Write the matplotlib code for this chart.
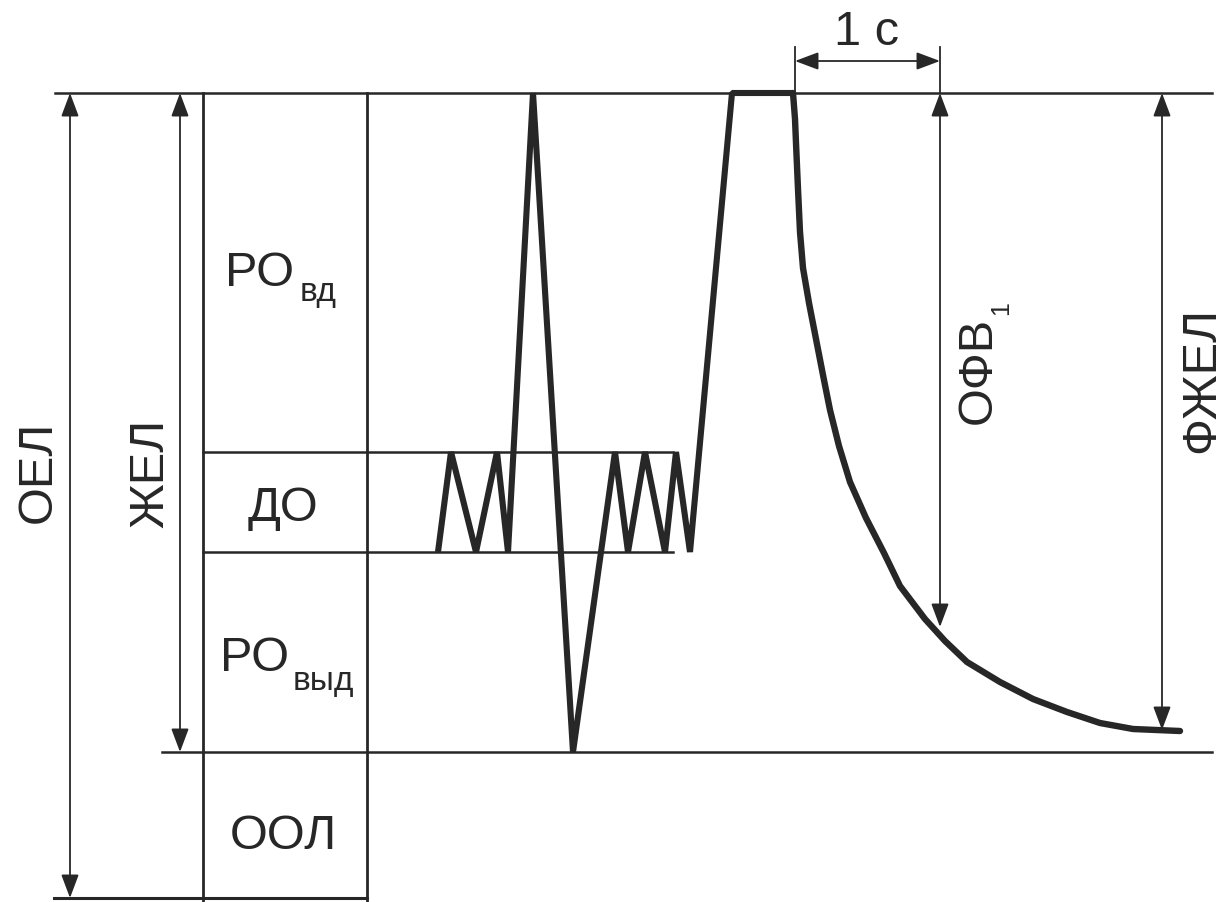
import numpy as np
import matplotlib
matplotlib.use("Agg")
from matplotlib import pyplot as plt

plt.rcParams['font.family'] = ['Liberation Sans', 'DejaVu Sans']

# levels of the spirogram (picture coordinates, y grows downwards)
y_top = 94        # TLC level
y_do_top = 453    # end of tidal inspiration
y_do_bot = 553    # end of tidal expiration
y_rv = 753        # end of maximal expiration
y_bottom = 899    # zero volume
y_tick = 48       # top of the 1 s markers
y_sec = 62        # 1 s arrow

x_oel = 70
x_zhel = 180
x_box = [203, 367]
x_t0 = 795        # start of forced expiration
x_t1 = 940        # 1 s later
x_fvc = 1162

# tidal breathing, deep breath, tidal breathing, full inspiration
trace_x = [438, 451, 476, 497, 508, 533, 573, 615, 628, 645, 665, 676, 690, 732, 793]
trace_y = [553, 453, 553, 453, 553, 94, 753, 453, 553, 453, 553, 453, 553, 94, 94]

# forced expiration curve
exp_x = [793, 795, 796, 798, 800, 803, 809, 816, 823, 830, 839, 850, 866, 884,
         900, 925, 945, 967, 1000, 1033, 1067, 1100, 1133, 1180]
exp_y = [94, 120, 144, 190, 233, 269, 304, 340, 376, 411, 447, 483, 519, 554,
         587, 620, 642, 663, 683, 700, 713, 724, 730, 732]
y_fev1 = 628
y_fvc = 731

ink = '#272727'
fig = plt.figure(figsize=(12.25, 9.03), dpi=100)
ax = fig.add_axes([0, 0, 1, 1])
ax.set_xlim(0, 1225)
ax.set_ylim(903, 0)
ax.axis('off')

# horizontal level lines
ax.plot([55, 1212], [y_top, y_top], color=ink, lw=1.8)
ax.plot([x_box[0], 673], [y_do_top, y_do_top], color=ink, lw=1.8)
ax.plot([x_box[0], 673], [y_do_bot, y_do_bot], color=ink, lw=1.8)
ax.plot([162, 1212], [y_rv, y_rv], color=ink, lw=1.8)
ax.plot([54, x_box[1]], [y_bottom, y_bottom], color=ink, lw=2.2)

# the volume box
for xb in x_box:
    ax.plot([xb, xb], [y_top, 903], color=ink, lw=2.0)

# trace
ax.plot(trace_x, trace_y, color=ink, lw=4.4, solid_joinstyle='bevel', solid_capstyle='butt')
ax.plot(exp_x, exp_y, color=ink, lw=4.6, solid_joinstyle='round', solid_capstyle='round')


def darrow(x0, y0, x1, y1):
    ax.annotate('', xy=(x1, y1), xytext=(x0, y0),
                arrowprops=dict(arrowstyle='<|-|>,head_length=0.72,head_width=0.27',
                                color=ink, lw=1.3, shrinkA=0, shrinkB=0,
                                mutation_scale=20))


darrow(x_oel, y_top, x_oel, y_bottom)
darrow(x_zhel, y_top, x_zhel, y_rv)
# 1 s markers
ax.plot([x_t0, x_t0], [y_tick, y_top], color=ink, lw=1.3)
ax.plot([x_t1, x_t1], [y_tick, y_top], color=ink, lw=1.3)
darrow(x_t0, y_sec, x_t1, y_sec)
darrow(x_t1, y_top, x_t1, y_fev1)
darrow(x_fvc, y_top, x_fvc, y_fvc)

fs = 35
sub = 24
ax.text(225, 286, 'РО', fontsize=fs, color=ink, ha='left', va='baseline')
ax.text(300, 301, 'вд', fontsize=sub, color=ink, ha='left', va='baseline')
ax.text(283, 521, 'ДО', fontsize=fs, color=ink, ha='center', va='baseline')
ax.text(220, 671, 'РО', fontsize=fs, color=ink, ha='left', va='baseline')
ax.text(293, 690, 'выд', fontsize=sub, color=ink, ha='left', va='baseline')
ax.text(283, 849, 'ООЛ', fontsize=fs, color=ink, ha='center', va='baseline')
ax.text(866, 45, '1 с', fontsize=fs, color=ink, ha='center', va='baseline')

rot = dict(rotation=90, rotation_mode='anchor', ha='center', va='baseline', color=ink)
ax.text(51, 472, 'ОЕЛ', fontsize=fs, **rot)
ax.text(163, 473, 'ЖЕЛ', fontsize=fs, **rot)
ax.text(991, 370, 'ОФВ', fontsize=fs, **rot)
ax.text(1008, 308, '1', fontsize=18, **rot)
ax.text(1214, 380, 'ФЖЕЛ', fontsize=fs, **rot)

fig.savefig('out.png', dpi=100, facecolor='white')
